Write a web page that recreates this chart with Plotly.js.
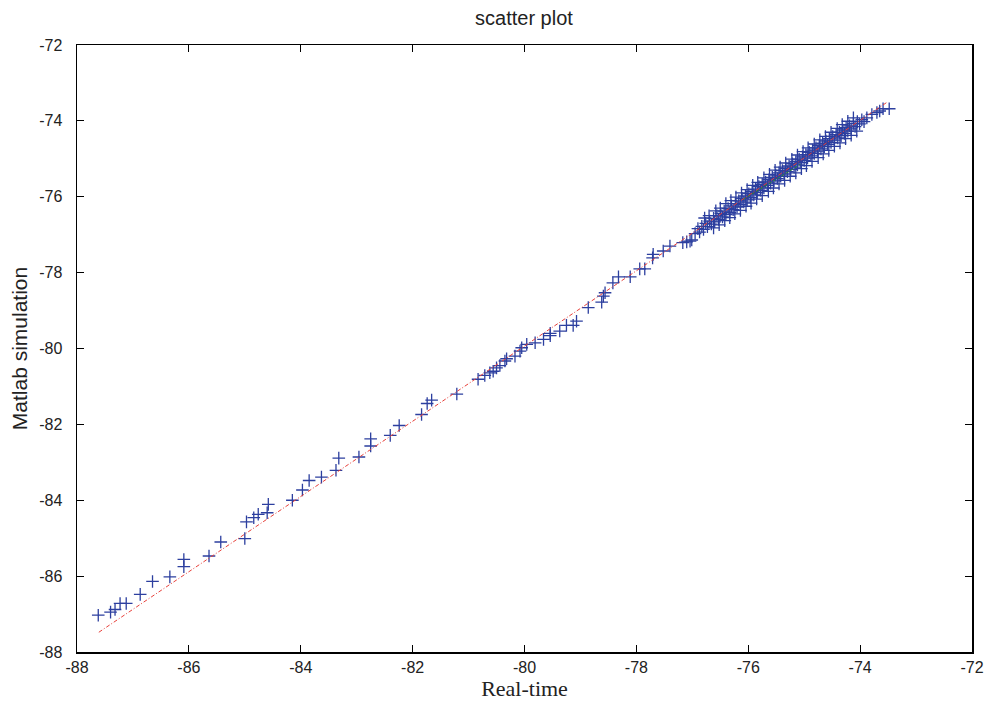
<!DOCTYPE html>
<html>
<head>
<meta charset="utf-8">
<script src="https://cdn.plot.ly/plotly-3.0.1.min.js"></script>
<style>html,body{margin:0;padding:0;background:#fff;}#chart{width:998px;height:705px;}</style>
</head>
<body>
<div id="chart"></div>
<script>
// Sparse points (Real-time vs Matlab simulation)
const sparseX = [-87.62,-87.40,-87.32,-87.23,-87.12,-86.87,-86.65,-86.34,-86.09,-86.09,
  -85.64,-85.43,-85.00,-84.97,-84.84,-84.76,-84.60,-84.58,-84.15,-83.97,
  -83.85,-83.63,-83.37,-83.32,-82.96,-82.75,-82.75,-82.40,-82.24,-81.84,
  -81.74,-81.66,-81.21,-80.83,-80.71,-80.62,-80.56,-80.50,-80.44,-80.35,
  -80.32,-80.17,-80.08,-80.05,-79.96,-79.81,-79.66,-79.54,-79.54,-79.37,
  -79.25,-79.13,-79.07,-78.86,-78.62,-78.59,-78.56,-78.42,-78.32,-78.11,
  -77.94,-77.85,-77.71,-77.70,-77.52,-77.40,-77.17,-77.10,-77.04,-77.01];
const sparseY = [-87.03,-86.95,-86.88,-86.72,-86.72,-86.48,-86.14,-86.02,-85.75,-85.56,
  -85.47,-85.10,-85.01,-84.57,-84.46,-84.37,-84.33,-84.11,-84.00,-83.73,
  -83.48,-83.39,-83.21,-82.89,-82.86,-82.57,-82.38,-82.29,-82.03,-81.74,
  -81.45,-81.36,-81.20,-80.81,-80.71,-80.64,-80.60,-80.51,-80.45,-80.33,
  -80.27,-80.20,-80.07,-79.98,-79.89,-79.85,-79.76,-79.66,-79.60,-79.54,
  -79.39,-79.39,-79.28,-78.92,-78.78,-78.62,-78.53,-78.27,-78.11,-78.11,
  -77.90,-77.90,-77.61,-77.52,-77.43,-77.30,-77.21,-77.19,-77.17,-77.14];
// Dense band points
const bandX = [-76.95,-76.90,-76.87,-76.83,-76.80,-76.76,-76.73,-76.69,-76.66,-76.62,
  -76.60,-76.56,-76.53,-76.49,-76.46,-76.43,-76.40,-76.36,-76.33,-76.30,
  -76.27,-76.23,-76.20,-76.17,-76.14,-76.11,-76.08,-76.05,-76.02,-75.99,
  -75.96,-75.93,-75.90,-75.87,-75.84,-75.81,-75.78,-75.75,-75.72,-75.69,
  -75.66,-75.63,-75.60,-75.57,-75.54,-75.51,-75.48,-75.45,-75.42,-75.39,
  -75.36,-75.33,-75.30,-75.27,-75.24,-75.21,-75.18,-75.15,-75.12,-75.09,
  -75.06,-75.03,-75.00,-74.97,-74.94,-74.91,-74.88,-74.85,-74.82,-74.79,
  -74.76,-74.73,-74.70,-74.67,-74.64,-74.61,-74.58,-74.55,-74.52,-74.49,
  -74.46,-74.43,-74.40,-74.37,-74.34,-74.31,-74.28,-74.25,-74.22,-74.19,
  -74.16,-74.12,-74.09,-74.05,-74.01,-73.97,-73.93,-73.88,-73.79,-73.70,
  -73.65,-73.59,-73.48];
const bandY = [-76.97,-76.84,-76.93,-76.78,-76.86,-76.70,-76.79,-76.64,-76.72,-76.57,
  -76.66,-76.50,-76.60,-76.44,-76.53,-76.38,-76.47,-76.31,-76.41,-76.24,
  -76.34,-76.18,-76.27,-76.11,-76.21,-76.05,-76.14,-75.98,-76.08,-75.92,
  -76.02,-75.86,-75.95,-75.80,-75.89,-75.73,-75.83,-75.67,-75.77,-75.61,
  -75.70,-75.55,-75.64,-75.49,-75.58,-75.43,-75.52,-75.37,-75.46,-75.31,
  -75.40,-75.25,-75.34,-75.19,-75.28,-75.13,-75.22,-75.07,-75.16,-75.01,
  -75.10,-74.95,-75.04,-74.89,-74.98,-74.83,-74.92,-74.77,-74.86,-74.71,
  -74.80,-74.65,-74.74,-74.59,-74.68,-74.53,-74.62,-74.47,-74.57,-74.41,
  -74.51,-74.36,-74.45,-74.30,-74.39,-74.24,-74.33,-74.18,-74.27,-74.13,
  -74.21,-74.07,-74.15,-74.02,-74.08,-73.97,-74.02,-73.92,-73.83,-73.78,
  -73.74,-73.68,-73.68];
// Outer edges of the dense band
const edgeX = [-76.78,-76.70,-76.58,-76.50,-76.40,-76.31,-76.22,-76.12,-76.02,-75.92,
  -75.83,-75.72,-75.62,-75.52,-75.43,-75.33,-75.22,-75.12,-75.02,-74.93,
  -74.82,-74.72,-74.62,-74.52,-74.41,-74.32,-74.22,-74.12,
  -76.62,-76.52,-76.42,-76.33,-76.24,-76.14,-76.04,-75.95,-75.85,-75.75,
  -75.64,-75.55,-75.45,-75.35,-75.25,-75.15,-75.05,-74.96,-74.86,-74.75,
  -74.66,-74.56,-74.46,-74.36,-74.26,-74.16,-74.06];
const edgeY = [-76.56,-76.50,-76.37,-76.30,-76.18,-76.10,-76.01,-75.90,-75.81,-75.70,
  -75.62,-75.50,-75.41,-75.30,-75.22,-75.11,-75.01,-74.90,-74.81,-74.71,
  -74.61,-74.50,-74.41,-74.30,-74.20,-74.10,-74.01,-73.92,
  -76.82,-76.74,-76.63,-76.55,-76.45,-76.36,-76.25,-76.17,-76.06,-75.97,
  -75.86,-75.77,-75.66,-75.57,-75.46,-75.37,-75.26,-75.18,-75.07,-74.97,
  -74.87,-74.78,-74.67,-74.58,-74.47,-74.38,-74.27];
// Fit line (red dash-dot) and green segment
const fitX = [-87.61,-73.52];
const fitY = [-87.48,-73.51];
const greenX = [-76.09,-75.07];
const greenY = [-76.07,-75.15];
const xTicks = [-88,-86,-84,-82,-80,-78,-76,-74,-72];
const yTicks = [-88,-86,-84,-82,-80,-78,-76,-74,-72];

const markerStyle = {symbol:'cross-thin-open', size:9, color:'#2c3f9f', line:{color:'#2c3f9f', width:1.3}};
const traces = [
  {x: sparseX.concat(bandX, edgeX), y: sparseY.concat(bandY, edgeY), type:'scatter', mode:'markers',
   marker: markerStyle},
  {x: greenX, y: greenY, type:'scatter', mode:'lines', line:{color:'#2a8a2a', width:1, dash:'3px,2px'}},
  {x: fitX, y: fitY, type:'scatter', mode:'lines', line:{color:'#e8403a', width:1, dash:'4px,2px,1px,2px'}}
];
const axisCommon = {
  showgrid:false, zeroline:false, showline:true, linecolor:'#000', linewidth:1.5,
  mirror:'ticks', ticks:'inside', ticklen:7, tickcolor:'#000', tickwidth:1,
  tickfont:{family:'Liberation Sans, Arial, sans-serif', size:16, color:'#222'}
};
const layout = {
  width:998, height:705,
  margin:{l:77, r:26, t:45, b:53},
  paper_bgcolor:'#fff', plot_bgcolor:'#fff',
  showlegend:false,
  title:{text:'scatter plot', x:0.525, xanchor:'center', y:0.974, yanchor:'middle',
    font:{family:'Liberation Sans, Arial, sans-serif', size:20, color:'#222'}},
  xaxis:Object.assign({}, axisCommon, {
    range:[-88,-72], tickvals:xTicks, ticktext:xTicks.map(String),
    title:{text:'Real-time', standoff:6, font:{family:'Liberation Serif, Times New Roman, serif', size:22, color:'#222'}}
  }),
  yaxis:Object.assign({}, axisCommon, {
    range:[-88,-72], tickvals:yTicks, ticktext:yTicks.map(String), ticklabelstandoff:10,
    title:{text:'Matlab simulation', standoff:6, font:{family:'Liberation Sans, Arial, sans-serif', size:21, color:'#222'}}
  })
};
Plotly.newPlot('chart', traces, layout, {displayModeBar:false, staticPlot:true});
</script>
</body>
</html>
